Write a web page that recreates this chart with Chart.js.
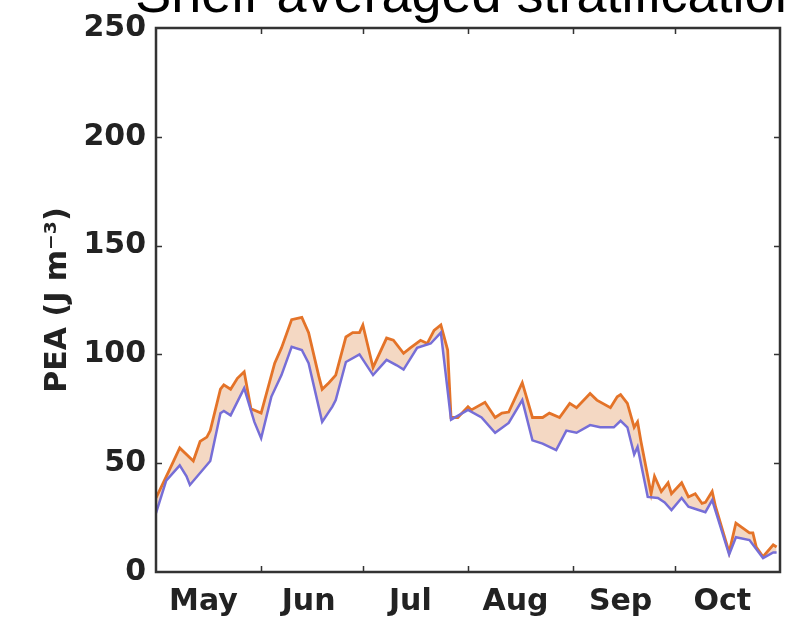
<!DOCTYPE html>
<html>
<head>
<meta charset="utf-8">
<script src="https://cdn.jsdelivr.net/npm/chart.js@4.4.1/dist/chart.umd.min.js"></script>
<style>
  body { margin: 0; background: #fff; }
  canvas { display: block; }
</style>
</head>
<body>
<canvas id="grafico" width="788" height="622"></canvas>
<script>
// days counted from 1 May
const monthNames = ['May', 'Jun', 'Jul', 'Aug', 'Sep', 'Oct'];
const monthStartDays = [0, 31, 61, 92, 123, 153];
const monthLabelDays = [14, 45, 75, 106, 137, 167];
const yTicks = [0, 50, 100, 150, 200, 250];

// upper line (orange)
const upperDays = [0, 4, 7, 11, 13, 15, 16, 19, 20, 22, 24, 26, 28, 31, 35, 37, 40, 43, 45, 48, 49, 51, 53, 56, 58, 60, 61, 64, 68, 70, 73, 75, 78, 80, 82, 84, 86, 87, 89, 92, 93, 97, 100, 102, 104, 108, 111, 114, 116, 119, 122, 124, 128, 130, 134, 136, 137, 139, 141, 142, 143, 146, 147, 149, 151, 152, 155, 157, 159, 161, 162, 164, 165, 169, 171, 175, 176, 177, 179, 182, 183];
const upperVals = [34, 47, 57, 51, 60, 62, 65, 84, 86, 84, 89, 92, 75, 73, 96, 103, 116, 117, 110, 90, 84, 87, 90.5, 108, 110, 110, 113.5, 94, 107.5, 106.5, 100.5, 103, 106.5, 105, 111, 113.5, 102, 71, 71, 76, 74.5, 78, 71, 73, 73.5, 87, 71, 71, 73, 71, 77.5, 75.5, 82, 79, 75.5, 80.5, 81.5, 77.5, 66.5, 69, 60, 36, 44, 37, 41, 36, 41, 34.5, 36, 31.5, 32, 37, 30, 9, 22.5, 18, 18, 11.5, 7, 12.5, 11.5];

// lower line (blue)
const lowerDays = [0, 3, 7, 9, 10, 16, 19, 20, 22, 26, 29, 31, 34, 37, 40, 43, 45, 49, 52, 53, 56, 60, 64, 68, 71, 73, 77, 81, 84, 87, 92, 96, 100, 104, 108, 111, 114, 118, 121, 124, 128, 131, 135, 137, 139, 141, 142, 145, 148, 150, 152, 155, 157, 160, 162, 164, 169, 171, 175, 179, 182, 183];
const lowerVals = [27, 42, 49, 44, 40, 51, 73, 74, 72, 84.5, 69, 61.5, 80.5, 90.5, 103.5, 102, 96, 69, 76, 79, 96.5, 100, 90.5, 97.5, 95, 93, 103, 105, 110, 70, 74.5, 71, 64, 68.5, 79, 60.5, 59, 56, 65, 64, 67.5, 66.5, 66.5, 69.5, 66.5, 54, 57.5, 34.5, 34, 32, 28.5, 34, 30, 28.5, 27.5, 33, 8, 16, 14.7, 6.4, 9, 9];

const titulo = 'Shelf-averaged stratification';
const ctx = document.getElementById('grafico');

function pares(dias, vals) {
  return dias.map((d, i) => ({ x: d, y: vals[i] }));
}

// title sits partly above the canvas, like the cropped original
const tituloPlugin = {
  id: 'tituloCortado',
  afterDraw(chart) {
    const c = chart.ctx;
    const area = chart.chartArea;
    c.save();
    c.font = '54px "Liberation Sans", Arial, sans-serif';
    c.fillStyle = '#000';
    c.textAlign = 'center';
    c.textBaseline = 'alphabetic';
    c.fillText(titulo, (area.left + area.right) / 2 + 2, 12);
    c.restore();
  }
};

// box around the axes plus inward ticks (matlab style)
const cajaPlugin = {
  id: 'caja',
  afterDraw(chart) {
    const c = chart.ctx;
    const a = chart.chartArea;
    const xs = chart.scales.x;
    const ys = chart.scales.y;
    const largo = 6;
    c.save();
    c.strokeStyle = '#333';
    c.lineWidth = 1.5;
    c.beginPath();
    monthStartDays.forEach(d => {
      if (d === 0) return;
      const px = Math.round(xs.getPixelForValue(d)) + 0.5;
      c.moveTo(px, a.bottom); c.lineTo(px, a.bottom - largo);
      c.moveTo(px, a.top); c.lineTo(px, a.top + largo);
    });
    yTicks.forEach(v => {
      if (v === 0 || v === 250) return;
      const py = Math.round(ys.getPixelForValue(v)) + 0.5;
      c.moveTo(a.left, py); c.lineTo(a.left + largo, py);
      c.moveTo(a.right, py); c.lineTo(a.right - largo, py);
    });
    c.stroke();
    c.lineWidth = 2.5;
    c.strokeRect(a.left, a.top, a.right - a.left, a.bottom - a.top);
    c.restore();
  }
};

window.grafica = new Chart(ctx, {
  type: 'line',
  data: {
    datasets: [{
      label: 'lower',
      data: pares(lowerDays, lowerVals),
      borderColor: 'rgb(118, 110, 215)',
      borderWidth: 2.5,
      pointRadius: 0,
      tension: 0,
      fill: false
    },
    {
      label: 'upper',
      data: pares(upperDays, upperVals),
      borderColor: 'rgb(228, 115, 40)',
      backgroundColor: 'rgba(240, 200, 170, 0.7)',
      borderWidth: 2.8,
      pointRadius: 0,
      tension: 0,
      fill: '-1'
    }]
  },
  options: {
    responsive: false,
    animation: false,
    layout: { padding: { left: 0, right: 8, top: 28, bottom: 0 } },
    plugins: {
      legend: { display: false },
      tooltip: { enabled: false }
    },
    scales: {
      x: {
        type: 'linear',
        min: 0,
        max: 184,
        afterBuildTicks: (scale) => {
          scale.ticks = monthLabelDays.map(v => ({ value: v }));
        },
        afterFit: (scale) => { scale.height = 50; },
        grid: { display: false, drawTicks: false },
        border: { display: false },
        ticks: {
          padding: 12,
          maxRotation: 0,
          autoSkip: false,
          color: '#222',
          font: { family: '"DejaVu Sans", sans-serif', size: 30, weight: 'bold' },
          callback: (value, i) => monthNames[i]
        }
      },
      y: {
        min: 0,
        max: 250,
        afterBuildTicks: (scale) => {
          scale.ticks = yTicks.map(v => ({ value: v }));
        },
        afterFit: (scale) => { scale.width = 156; },
        grid: { display: false, drawTicks: false },
        border: { display: false },
        ticks: {
          padding: 10,
          color: '#222',
          font: { family: '"DejaVu Sans", sans-serif', size: 30, weight: 'bold' }
        },
        title: {
          display: true,
          text: 'PEA (J m⁻³)',
          color: '#222',
          padding: { top: 40, bottom: 0 },
          font: { family: '"DejaVu Sans", sans-serif', size: 30, weight: 'bold' }
        }
      }
    }
  },
  plugins: [tituloPlugin, cajaPlugin]
});
</script>
</body>
</html>
